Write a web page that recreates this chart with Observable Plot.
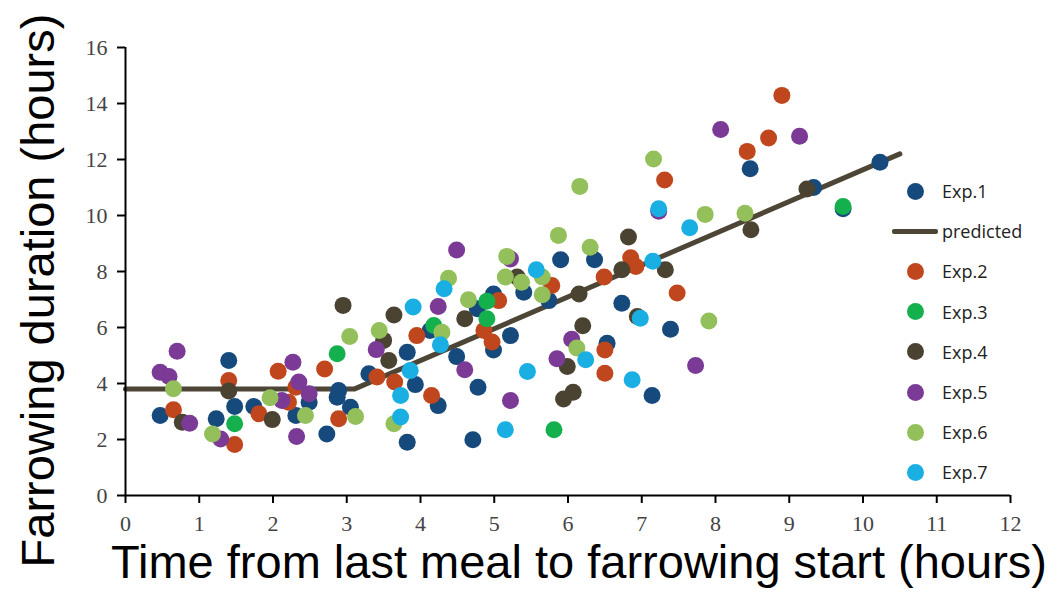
<!DOCTYPE html>
<html>
<head>
<meta charset="utf-8">
<script src="https://cdn.jsdelivr.net/npm/d3@7"></script>
<script src="https://cdn.jsdelivr.net/npm/@observablehq/plot@0.6"></script>
<style>
  html, body { margin: 0; padding: 0; background: #fff; }
  #wrap { position: relative; width: 1061px; height: 601px; }
  #legend { position: absolute; left: 0; top: 0; width: 1061px; height: 601px; pointer-events: none;
    font-family: "Open Sans", "Noto Sans", sans-serif; font-size: 18px; color: #222; }
  .li { position: absolute; display: flex; align-items: center; }
  .sw { width: 17px; height: 17px; border-radius: 50%; margin-right: 18px; margin-left: 15px; }
  .ln { width: 46px; height: 5px; border-radius: 2px; margin-right: 4px; }
</style>
</head>
<body>
<div id="wrap"><div id="chart"></div><div id="legend"></div></div>
<script>
// ---- data (hours) ----
const seriesNames = ["Exp.1", "Exp.2", "Exp.3", "Exp.4", "Exp.5", "Exp.6", "Exp.7"];
const seriesColors = ["#174a7c", "#c0461d", "#14b04e", "#4b4331", "#7a3a96", "#93c05a", "#19afe3"];
const predictedColor = "#4d4535";

const exp1 = [[0.47,2.86],[1.40,4.82],[1.48,3.18],[1.23,2.74],[1.74,3.18],[2.31,2.86],[2.49,3.33],[2.73,2.2],[2.87,3.51],[2.89,3.75],[3.05,3.15],[3.30,4.35],[3.82,5.12],[3.93,3.96],[4.24,3.21],[3.82,1.90],[4.49,4.96],[4.78,3.87],[4.71,1.99],[4.99,5.2],[5.22,5.71],[4.77,6.67],[4.99,7.2],[5.40,7.26],[5.90,8.42],[5.74,6.96],[4.13,5.89],[6.36,8.42],[6.73,6.87],[6.53,5.44],[7.39,5.94],[7.14,3.57],[8.47,11.67],[9.33,11.0],[10.23,11.9],[9.73,10.24]];
const exp2 = [[0.65,3.06],[1.40,4.11],[1.48,1.82],[1.81,2.92],[2.07,4.44],[2.21,3.33],[2.31,3.87],[2.70,4.52],[2.89,2.74],[3.41,4.23],[3.65,4.05],[3.95,5.71],[4.15,3.57],[4.86,5.89],[4.97,5.48],[5.06,6.96],[5.78,7.5],[6.49,7.8],[6.85,8.49],[6.92,8.18],[7.48,7.23],[6.50,5.2],[6.50,4.37],[7.31,11.27],[8.43,12.29],[8.72,12.77],[8.90,14.29]];
const exp3 = [[1.48,2.56],[2.87,5.06],[4.18,6.07],[4.90,6.94],[4.90,6.31],[5.81,2.35],[9.73,10.32]];
const exp4 = [[0.77,2.62],[1.40,3.73],[1.99,2.71],[2.95,6.79],[3.64,6.45],[3.50,5.54],[3.57,4.82],[4.60,6.31],[5.31,7.8],[6.15,7.2],[6.73,8.06],[6.82,9.23],[7.32,8.06],[6.20,6.06],[5.99,4.61],[6.07,3.69],[5.94,3.45],[6.94,6.39],[8.48,9.49],[9.24,10.95]];
const exp5 = [[0.47,4.4],[0.59,4.25],[0.70,5.15],[0.87,2.58],[1.29,2.02],[2.27,4.76],[2.35,4.05],[2.49,3.63],[2.12,3.39],[2.32,2.11],[3.40,5.21],[4.24,6.75],[4.49,8.77],[4.60,4.49],[5.22,3.39],[5.22,8.45],[5.85,4.88],[6.05,5.58],[7.23,10.15],[7.73,4.64],[8.07,13.07],[9.14,12.83]];
const exp6 = [[0.65,3.81],[1.18,2.2],[1.96,3.49],[2.44,2.86],[3.12,2.82],[3.04,5.68],[3.44,5.89],[3.64,2.56],[4.29,5.83],[4.38,7.76],[4.65,6.99],[5.17,8.54],[5.15,7.8],[5.37,7.62],[5.65,7.8],[5.65,7.17],[5.87,9.29],[6.16,11.04],[6.30,8.87],[6.12,5.27],[7.16,12.02],[7.86,10.04],[7.91,6.23],[8.40,10.08]];
const exp7 = [[3.90,6.73],[4.32,7.38],[4.27,5.38],[3.86,4.46],[3.73,3.57],[3.73,2.8],[5.57,8.06],[5.45,4.43],[5.15,2.35],[6.24,4.85],[6.87,4.13],[6.98,6.33],[7.15,8.37],[7.65,9.56],[7.23,10.24]];

const predX = [0, 3.1, 10.5];
const predY = [3.8, 3.8, 12.2];

const xTicks = [0,1,2,3,4,5,6,7,8,9,10,11,12];
const yTicks = [0,2,4,6,8,10,12,14,16];
const xTitle = "Time from last meal to farrowing start (hours)";
const yTitle = "Farrowing duration (hours)";

// ---- build ----
const allSeries = [exp1, exp2, exp3, exp4, exp5, exp6, exp7];
const points = allSeries.flatMap((arr, i) => arr.map(([x, y]) => ({x, y, s: seriesNames[i]})));
const predicted = predX.map((x, i) => ({x, y: predY[i]}));

const chart = Plot.plot({
  width: 1061,
  height: 601,
  marginLeft: 125,
  marginRight: 51,
  marginTop: 47,
  marginBottom: 106,
  style: { background: "#fff", overflow: "visible" },
  x: { domain: [0, 12] },
  y: { domain: [0, 16] },
  color: { domain: seriesNames, range: seriesColors },
  marks: [
    Plot.line(predicted, { x: "x", y: "y", stroke: predictedColor, strokeWidth: 5, strokeLinejoin: "round" }),
    Plot.dot(points, { x: "x", y: "y", fill: "s", r: 8.5, stroke: "none" }),
    Plot.axisY({ ticks: yTicks, tickSize: 8, tickPadding: 10, strokeWidth: 2, stroke: "#000", label: null,
      fontSize: 22, fontFamily: "Liberation Serif", color: "#444", tickFormat: d => String(d) }),
    Plot.axisX({ ticks: xTicks, tickSize: 8, tickPadding: 12, strokeWidth: 2, stroke: "#000", label: null,
      fontSize: 22, fontFamily: "Liberation Serif", color: "#444", tickFormat: d => String(d) }),
    Plot.ruleX([0], { stroke: "#000", strokeWidth: 2 }),
    Plot.ruleY([0], { stroke: "#000", strokeWidth: 2 }),
    Plot.text([xTitle], { frameAnchor: "bottom", textAnchor: "middle", dy: 82, dx: 11, fontSize: 47, fontFamily: "Liberation Sans", fill: "#000" }),
    Plot.text([yTitle], { frameAnchor: "left", textAnchor: "middle", rotate: -90, dx: -87, dy: 19, fontSize: 47, fontFamily: "Liberation Sans", fill: "#000" })
  ]
});
document.getElementById("chart").appendChild(chart);

// ---- legend (HTML overlay) ----
const legend = document.getElementById("legend");
const legendItems = [
  {label: "Exp.1", color: seriesColors[0], type: "dot"},
  {label: "predicted", color: predictedColor, type: "line"},
  ...seriesNames.slice(1).map((n, i) => ({label: n, color: seriesColors[i + 1], type: "dot"}))
];
legendItems.forEach((it, i) => {
  const d = document.createElement("div");
  d.className = "li";
  d.style.left = "892px";
  d.style.top = (179 + i * 40.2) + "px";
  d.style.height = "24px";
  const sw = document.createElement("div");
  sw.className = it.type === "dot" ? "sw" : "ln";
  sw.style.background = it.color;
  const t = document.createElement("span");
  t.textContent = it.label;
  d.appendChild(sw);
  d.appendChild(t);
  legend.appendChild(d);
});
</script>
</body>
</html>
